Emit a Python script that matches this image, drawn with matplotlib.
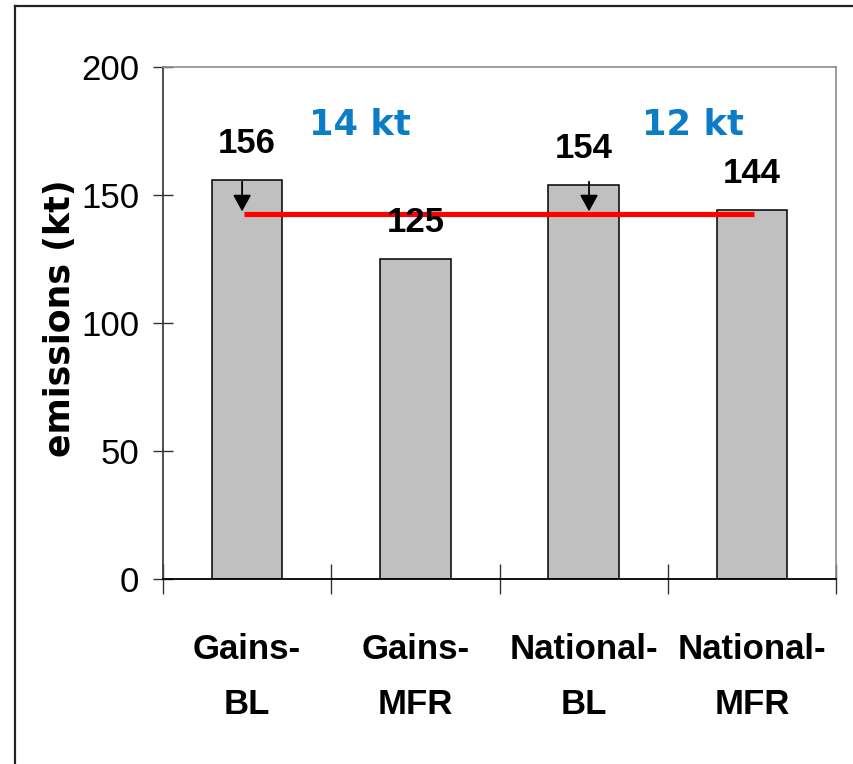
import matplotlib
matplotlib.use("Agg")
import matplotlib.pyplot as plt
from matplotlib import font_manager
from matplotlib.lines import Line2D

# Data
categories = ["Gains-\nBL", "Gains-\nMFR", "National-\nBL", "National-\nMFR"]
emissions = [156, 125, 154, 144]
reference_level = 142.5
gap_labels = ["14 kt", "12 kt"]
yticks = [0, 50, 100, 150, 200]


def pick_family(candidates):
    for fam in candidates:
        try:
            font_manager.findfont(font_manager.FontProperties(family=fam),
                                  fallback_to_default=False)
            return fam
        except Exception:
            continue
    return "DejaVu Sans"


narrow = pick_family(["Liberation Sans Narrow", "Arial Narrow", "Liberation Sans"])
is_narrow = "Narrow" in narrow
label_size = 27 if is_narrow else 25

fig = plt.figure(figsize=(8.54, 7.64), dpi=100)
ax = fig.add_axes([0.1909, 0.2421, 0.7880, 0.6702])

x = list(range(len(categories)))
ax.bar(x, emissions, width=0.42, color="#C0C0C0", edgecolor="black",
       linewidth=1.1, zorder=2)

ax.set_xlim(-0.5, len(categories) - 0.5)
ax.set_ylim(0, 200)

# y axis ticks
ax.set_yticks(yticks)
ax.set_yticklabels([str(v) for v in yticks], family=narrow, fontsize=label_size)
ax.tick_params(axis="y", direction="inout", length=14.4, width=1.0,
               color="#333333", pad=10)

# x axis: boundary ticks (major) and centred labels (minor)
ax.set_xticks([i - 0.5 for i in range(len(categories) + 1)])
ax.set_xticklabels([])
ax.set_xticks(x, minor=True)
ax.set_xticklabels(categories, minor=True, family=narrow, fontsize=label_size,
                   fontweight="bold", linespacing=1.85)
ax.tick_params(axis="x", which="major", direction="inout", length=21,
               width=1.0, color="#333333")
ax.tick_params(axis="x", which="minor", length=0, pad=39)

for side in ("top", "right"):
    ax.spines[side].set_color("#8C8C8C")
    ax.spines[side].set_linewidth(1.2)
ax.spines["left"].set_color("#404040")
ax.spines["left"].set_linewidth(1.3)
ax.spines["bottom"].set_color("black")
ax.spines["bottom"].set_linewidth(1.3)

# value labels above bars
for xi, v in zip(x, emissions):
    ax.annotate(str(v), xy=(xi, v), xytext=(0, 19.5), textcoords="offset points",
                ha="center", va="baseline", family=narrow, fontsize=label_size,
                fontweight="bold", zorder=5)

# reference level line
ax.plot([-0.02, 3.013], [reference_level, reference_level], color="#FF0000",
        linewidth=3.7, solid_capstyle="butt", zorder=3)

# arrows pointing to the reference level
for xa in (-0.03, 2.032):
    ax.annotate("", xy=(xa, 143.6), xytext=(xa, 155.2),
                arrowprops=dict(arrowstyle="-|>,head_length=0.4,head_width=0.22",
                                mutation_scale=25, color="black", lw=1.3,
                                shrinkA=0, shrinkB=0), zorder=4)

# differences
ax.text(0.671, 177.3, gap_labels[0], ha="center", va="center",
        family="DejaVu Sans", fontweight="bold", fontsize=25.5, color="#0A7DC6")
ax.text(2.653, 177.3, gap_labels[1], ha="center", va="center",
        family="DejaVu Sans", fontweight="bold", fontsize=25.5, color="#0A7DC6")

fig.text(60 / 854, 1 - 318 / 764, "emissions (kt)", rotation=90, ha="center",
         va="center", family="DejaVu Sans", fontweight="bold", fontsize=25)

# frame lines along the top and left edges
fig.add_artist(Line2D([15.5 / 854, 15.5 / 854], [0, 1 - 6 / 764],
                      transform=fig.transFigure, color="#222222", linewidth=1.6))
fig.add_artist(Line2D([15.5 / 854, 1], [1 - 6 / 764, 1 - 6 / 764],
                      transform=fig.transFigure, color="#222222", linewidth=1.6))

fig.savefig("out.png", dpi=100)
